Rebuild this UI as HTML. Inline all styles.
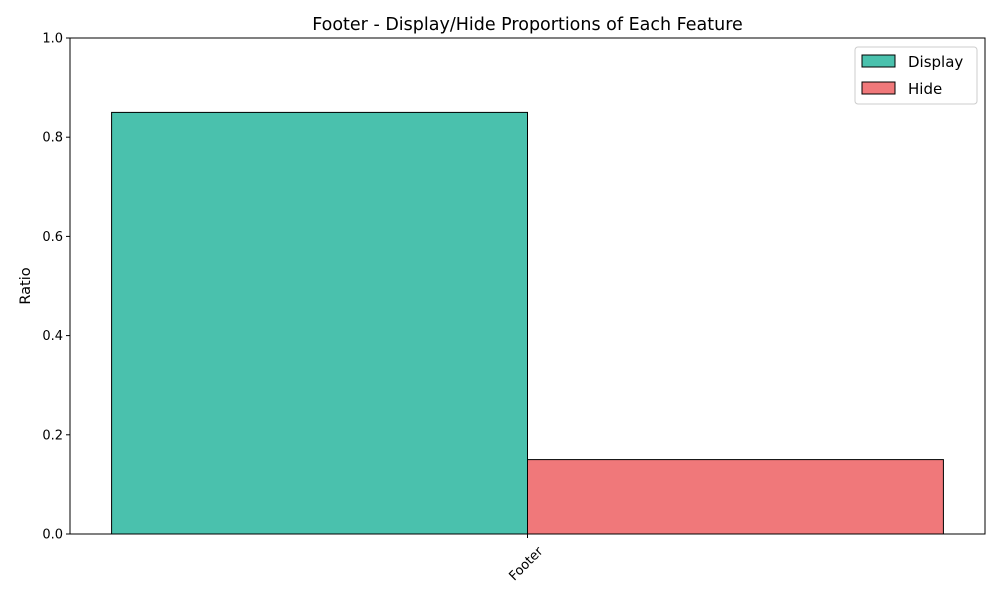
<!DOCTYPE html>
<html><head><meta charset="utf-8"><style>
body{margin:0;background:#fff;font-family:"Liberation Sans","DejaVu Sans",sans-serif}
</style></head><body>
<svg width="1000" height="600" xmlns="http://www.w3.org/2000/svg" font-family="DejaVu Sans, Liberation Sans, sans-serif">
<rect width="1000" height="600" fill="#fff"/>
<text x="527.5" y="30" text-anchor="middle" font-size="17.5">Footer - Display/Hide Proportions of Each Feature</text>
<g id="bars"></g>
<g id="yticks"></g>
<rect x="70" y="38" width="915" height="496" fill="none" stroke="#000" stroke-width="1"/>
<text transform="translate(30,286) rotate(-90)" text-anchor="middle" font-size="14.5">Ratio</text>
<g id="xticks"></g>
<g>
<rect x="855" y="47" width="122" height="57" rx="3" fill="#fff" stroke="#ccc"/>
<g>
<rect x="862" y="55" width="33" height="12" fill="#4ac1ad" stroke="#000"/>
<text x="908" y="67" font-size="15">Display</text></g>
<g>
<rect x="862" y="82" width="33" height="12" fill="#f0787a" stroke="#000"/>
<text x="908" y="94" font-size="15">Hide</text></g>
</g>
</svg>
<script>
const categories=["Footer"];
const displayValues=[0.85];
const hideValues=[0.15];
const yTickLabels=["0.0","0.2","0.4","0.6","0.8","1.0"];
const yTicks=[0,0.2,0.4,0.6,0.8,1.0];
const NS="http://www.w3.org/2000/svg";
const L=70,R=985,T=38,B=534;
const xmin=-0.44,xmax=0.44;
const xs=v=>L+(v-xmin)/(xmax-xmin)*(R-L);
const ys=v=>B-(v-0)/(1-0)*(B-T);
const bw=0.4;
function mk(tag,attrs,parent){const e=document.createElementNS(NS,tag);for(const k in attrs)e.setAttribute(k,attrs[k]);parent.appendChild(e);return e;}
const bars=document.getElementById('bars');
categories.forEach((c,i)=>{
  const x1=xs(i-bw),x2=xs(i),x3=xs(i+bw);
  const d=mk('rect',{x:x1,y:ys(displayValues[i]),width:x2-x1,height:ys(0)-ys(displayValues[i]),fill:'#4ac1ad',stroke:'#000','stroke-width':1},bars);
  
  
  const h=mk('rect',{x:x2,y:ys(hideValues[i]),width:x3-x2,height:ys(0)-ys(hideValues[i]),fill:'#f0787a',stroke:'#000','stroke-width':1},bars);
  
  
  const xt=document.getElementById('xticks');
  const tk=mk('line',{x1:x2,x2:x2,y1:B,y2:B+4,stroke:'#000'},xt);
  
  
  const lb=mk('text',{transform:`translate(${x2+16},${B+18}) rotate(-45)`,'text-anchor':'end','font-size':'13'},xt);
  lb.textContent=c;
  
  
});
const yt=document.getElementById('yticks');
yTicks.forEach((v,i)=>{
  const l=mk('line',{x1:L-4,x2:L,y1:ys(v),y2:ys(v),stroke:'#000'},yt);
  
  
  const t=mk('text',{x:L-7,y:ys(v)+4.5,'text-anchor':'end','font-size':'13'},yt);
  t.textContent=yTickLabels[i];
  
  
});
</script>
</body></html>
